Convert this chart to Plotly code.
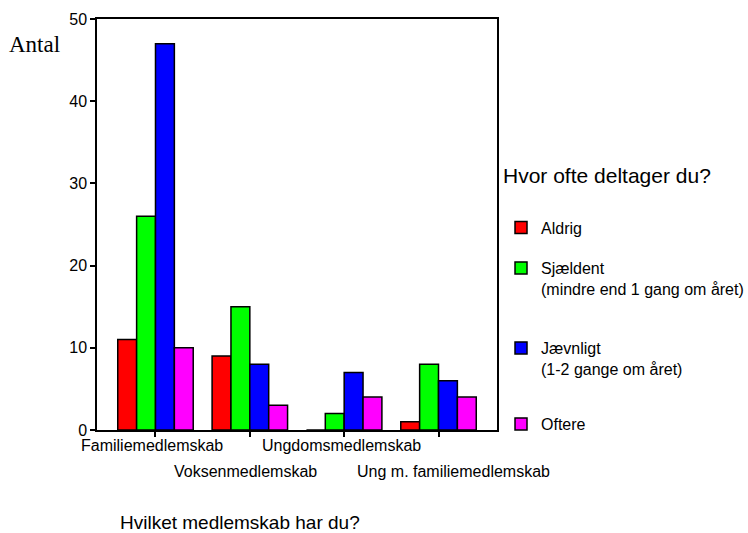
import plotly.graph_objects as go

categories = ["Familiemedlemskab", "Voksenmedlemskab", "Ungdomsmedlemskab", "Ung m. familiemedlemskab"]
series_names = ["Aldrig", "Sjældent<br>(mindre end 1 gang om året)", "Jævnligt<br>(1-2 gange om året)", "Oftere"]
aldrig = [11, 9, 0, 1]
sjaeldent = [26, 15, 2, 8]
jaevnligt = [47, 8, 7, 6]
oftere = [10, 3, 4, 4]
colors = ["#FF0000", "#00FF00", "#0000FF", "#FF00FF"]
y_ticks = [0, 10, 20, 30, 40, 50]

legend_ids = ["legend", "legend2", "legend3", "legend4"]
legend_y = [0.7073, 0.5291, 0.3790, 0.2364]

fig = go.Figure()
for i, (name, vals, col) in enumerate(zip(series_names, [aldrig, sjaeldent, jaevnligt, oftere], colors)):
    fig.add_trace(go.Bar(
        x=list(range(len(categories))), y=vals, name=name, legend=legend_ids[i],
        marker=dict(color=col, line=dict(color="black", width=1.5)),
    ))

font = "Arial, Liberation Sans, sans-serif"
leg_common = dict(x=0.6698, xanchor="left", yanchor="top", xref="container", yref="container",
                  font=dict(size=16), valign="top", bgcolor="rgba(0,0,0,0)")
legends = {}
for i, lid in enumerate(legend_ids):
    d = dict(leg_common, y=legend_y[i])
    if i == 0:
        d["title"] = dict(text="Hvor ofte deltager du?<br> ", font=dict(size=21))
    legends[lid] = d

fig.update_layout(
    width=748, height=533,
    margin=dict(l=97, r=251, t=19, b=103, autoexpand=False),
    paper_bgcolor="white", plot_bgcolor="white",
    barmode="group", bargap=0.2, bargroupgap=0,
    font=dict(family=font, size=16, color="black"),
    showlegend=True,
    xaxis=dict(
        range=[-0.62, 3.62], tickvals=list(range(len(categories))),
        ticktext=["" for _ in categories], ticks="outside", ticklen=5,
        tickcolor="black", tickwidth=1.5, automargin=False,
        showline=True, linecolor="black", linewidth=1.5, mirror=True,
        showgrid=False, zeroline=False,
    ),
    yaxis=dict(
        range=[0, 50], tickvals=y_ticks, ticks="outside", ticklen=5,
        tickcolor="black", tickwidth=1.5, automargin=False,
        showline=True, linecolor="black", linewidth=1.5, mirror=True,
        showgrid=False, zeroline=False, tickfont=dict(size=16),
    ),
    **legends,
)

label_xshift = [-3, -4, -3, 15]
for i, cat in enumerate(categories):
    fig.add_annotation(
        x=i, y=0, xref="x", yref="paper", text=cat, showarrow=False,
        yanchor="top", yshift=-5 if i % 2 == 0 else -31, xshift=label_xshift[i],
        font=dict(size=16),
    )

fig.add_annotation(x=-0.225, y=0.937, xref="paper", yref="paper", text="Antal",
                   showarrow=False, xanchor="left", yanchor="middle",
                   font=dict(family="Times New Roman, Liberation Serif, serif", size=23))
fig.add_annotation(x=0.0526, y=-0.226, xref="paper", yref="paper",
                   text="Hvilket medlemskab har du?", showarrow=False,
                   xanchor="left", yanchor="middle", font=dict(size=19))

fig.write_html(
    "out.html",
    config={"displayModeBar": False},
    post_script="document.body.style.margin='0';document.body.style.overflow='hidden';",
)
